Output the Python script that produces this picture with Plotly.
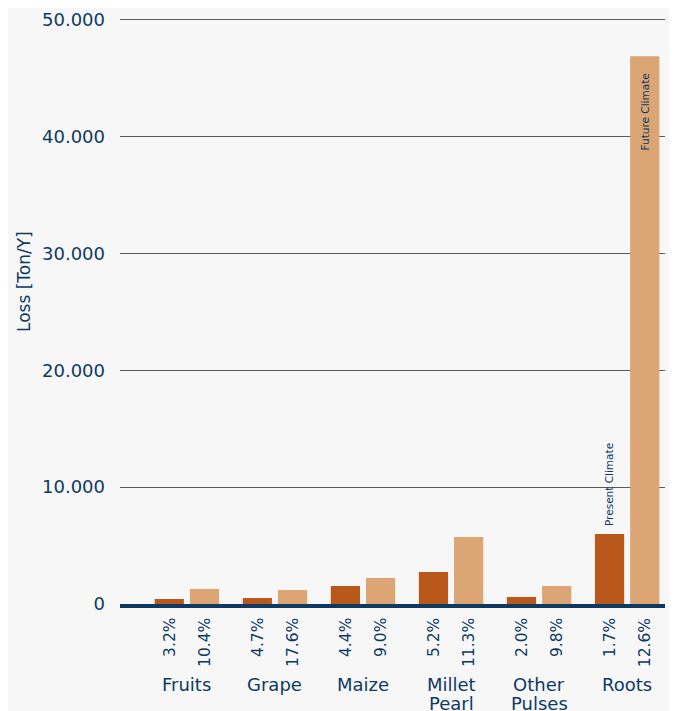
import plotly.graph_objects as go

# дані, зчитані з рисунку
crops = ["Fruits", "Grape", "Maize", "Millet<br>Pearl", "Other<br>Pulses", "Roots"]
present = [430, 510, 1540, 2740, 600, 6000]
future = [1290, 1200, 2230, 5740, 1540, 46870]
present_pct = ["3.2%", "4.7%", "4.4%", "5.2%", "2.0%", "1.7%"]
future_pct = ["10.4%", "17.6%", "9.0%", "11.3%", "9.8%", "12.6%"]
y_ticks = [0, 10000, 20000, 30000, 40000, 50000]
y_labels = ["0", "10.000", "20.000", "30.000", "40.000", "50.000"]

navy = "#0e3a62"
font = "DejaVu Sans"
W, H = 661, 703  # сторінка має відступ 8px, тож фігура трохи менша за вікно
plot_w = 545
plot_h = 586
left, bottom = 112, 107

fig = go.Figure()
fig.add_trace(go.Bar(x=crops, y=present, name="Present Climate",
                     marker=dict(color="#b8581a", line=dict(width=0))))
fig.add_trace(go.Bar(x=crops, y=future, name="Future Climate",
                     marker=dict(color="#dca574", line=dict(width=0))))

ann = []
# відсотки під стовпчиками та назви культур
for c, p, f in zip(crops, present_pct, future_pct):
    for txt, dx in ((p, -17.5), (f, 17.5)):
        ann.append(dict(x=c, y=-12 / plot_h, xref="x", yref="paper", text=txt,
                        textangle=-90, xshift=dx, yanchor="top", showarrow=False,
                        font=dict(family=font, size=15.5, color=navy)))
    # назви у два рядки з тіснішим інтервалом
    for i, line in enumerate(c.split("<br>")):
        ann.append(dict(x=c, y=-(68 + 19 * i) / plot_h, xref="x", yref="paper",
                        text=line, yanchor="top", showarrow=False,
                        font=dict(family=font, size=18, color=navy)))

# підписи серій біля стовпчиків Roots
ann.append(dict(x=crops[-1], y=present[-1], xref="x", yref="y", text="Present Climate",
                textangle=-90, xshift=-17.5, yshift=6, yanchor="bottom", showarrow=False,
                font=dict(family=font, size=10.5, color=navy)))
ann.append(dict(x=crops[-1], y=future[-1], xref="x", yref="y", text="Future Climate",
                textangle=-90, xshift=17.5, yshift=-15, yanchor="top", showarrow=False,
                font=dict(family=font, size=10.5, color=navy)))

# назва осі Y
ann.append(dict(x=-96 / plot_w, y=(604 - 282) / plot_h, xref="paper", yref="paper",
                xanchor="center", yanchor="middle",
                text="Loss [Ton/Y]", textangle=-90, showarrow=False,
                font=dict(family=font, size=17, color=navy)))

fig.update_layout(
    width=W, height=H,
    margin=dict(l=left, r=W - left - plot_w, t=H - bottom - plot_h, b=bottom,
                autoexpand=False),
    barmode="group", bargap=0.2, bargroupgap=0.17,
    showlegend=False,
    paper_bgcolor="#f7f7f7", plot_bgcolor="rgba(0,0,0,0)",
    annotations=ann,
    xaxis=dict(range=[-0.76, 5.43], showticklabels=False, showgrid=False,
               showline=True, linecolor=navy, linewidth=4, ticks="",
               automargin=False),
    yaxis=dict(range=[0, 50150], tickvals=y_ticks, ticktext=y_labels,
               showgrid=True, gridcolor="#5a5a5a", gridwidth=1, zeroline=False,
               ticklabelstandoff=14, automargin=False,
               tickfont=dict(family=font, size=18, color=navy)),
)

fig.write_html("out.html")
